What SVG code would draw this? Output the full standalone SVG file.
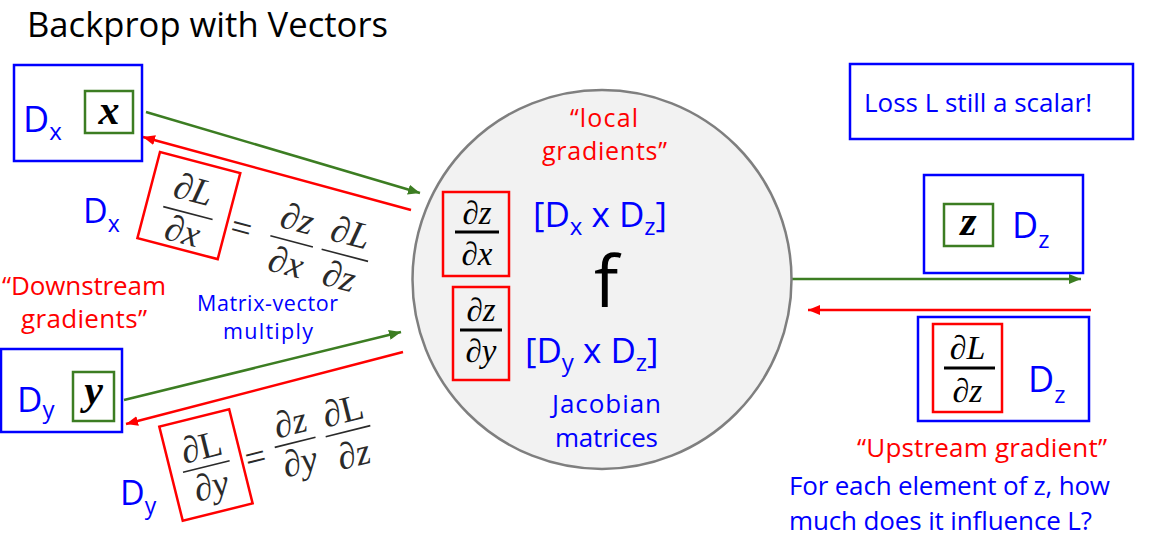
<svg xmlns="http://www.w3.org/2000/svg" width="1149" height="553" viewBox="0 0 1149 553">
<style>
.sans{font-family:"Open Sans","Noto Sans","DejaVu Sans",sans-serif}
.blue{fill:#0000ff}
.red{fill:#ff0000}
.bbox{fill:none;stroke:#0000ff;stroke-width:2.5}
.gbox{fill:none;stroke:#3c7d22;stroke-width:2.5}
.rbox{fill:none;stroke:#ff0000;stroke-width:2.5}
.math{font-family:"Liberation Serif","DejaVu Serif",serif;font-style:italic;fill:#000}
.eq{font-family:"Liberation Serif","DejaVu Serif",serif;font-style:italic;fill:#2a2a2a;font-size:37px}
.up{font-style:normal}
.bar{stroke:#000;stroke-width:3}
.tbar{stroke:#2a2a2a;stroke-width:1.6}
.gline{stroke:#3c7d22;stroke-width:2.5;fill:none}
.rline{stroke:#ff0000;stroke-width:2.5;fill:none}
</style>
<defs>
<marker id="ag" markerUnits="userSpaceOnUse" markerWidth="13" markerHeight="10" refX="12" refY="5" orient="auto">
<path d="M0,0 L12,5 L0,10 z" fill="#3c7d22"/>
</marker>
<marker id="ar" markerUnits="userSpaceOnUse" markerWidth="13" markerHeight="10" refX="12" refY="5" orient="auto">
<path d="M0,0 L12,5 L0,10 z" fill="#ff0000"/>
</marker>
</defs>
<rect width="1149" height="553" fill="#fff"/>

<g id="title">
<text class="sans" x="27" y="37" font-size="34.6" fill="#000" textLength="361" lengthAdjust="spacing">Backprop with Vectors</text>
</g>

<g id="connectors">
<line class="gline" x1="146" y1="112" x2="420" y2="193" marker-end="url(#ag)"/>
<line class="rline" x1="411" y1="210" x2="143" y2="137" marker-end="url(#ar)"/>
<line class="gline" x1="124" y1="400" x2="401" y2="332" marker-end="url(#ag)"/>
<line class="rline" x1="403" y1="352" x2="126" y2="424" marker-end="url(#ar)"/>
<line class="gline" x1="792" y1="279" x2="1081" y2="279" marker-end="url(#ag)"/>
<line class="rline" x1="1091" y1="310" x2="808" y2="310" marker-end="url(#ar)"/>
</g>

<g id="node-x">
<rect class="bbox" x="14" y="65" width="128" height="96"/>
<rect class="gbox" x="85" y="91" width="48" height="42"/>
<text class="math" x="109" y="124" font-size="42" font-weight="bold" text-anchor="middle">x</text>
<text class="sans blue" x="23" y="132" font-size="36">D<tspan font-size="24" dy="8">x</tspan></text>
</g>

<g id="node-y">
<rect class="bbox" x="1" y="349" width="121" height="83"/>
<rect class="gbox" x="73" y="372" width="41" height="49"/>
<text class="math" x="93.5" y="404" font-size="42" font-weight="bold" text-anchor="middle">y</text>
<text class="sans blue" x="17" y="412" font-size="35">D<tspan font-size="24" dy="6">y</tspan></text>
</g>

<g id="grad-x">
<text class="sans blue" x="83" y="223" font-size="34">D<tspan font-size="23" dy="9">x</tspan></text>
<g transform="translate(160,152) rotate(14.7)">
<rect class="rbox" x="0" y="0" width="83" height="89"/>
<text class="eq" x="42" y="40" text-anchor="middle">∂L</text>
<line class="tbar" x1="17" y1="52" x2="68" y2="52"/>
<text class="eq" x="42" y="83" text-anchor="middle">∂x</text>
<text class="eq up" x="98" y="65" text-anchor="middle" font-size="40">=</text>
<text class="eq" x="150" y="42" text-anchor="middle">∂z</text>
<line class="tbar" x1="128" y1="53" x2="172" y2="53"/>
<text class="eq" x="150" y="87" text-anchor="middle">∂x</text>
<text class="eq" x="205" y="42" text-anchor="middle">∂L</text>
<line class="tbar" x1="181" y1="53" x2="229" y2="53"/>
<text class="eq" x="205" y="87" text-anchor="middle">∂z</text>
</g>
</g>

<g id="grad-y">
<text class="sans blue" x="120" y="505" font-size="34">D<tspan font-size="23" dy="9">y</tspan></text>
<g transform="translate(159.3,426.7) rotate(-14)">
<rect class="rbox" x="0" y="0" width="72" height="97"/>
<text class="eq" x="36" y="42" text-anchor="middle">∂<tspan class="up">L</tspan></text>
<line class="tbar" x1="12" y1="50" x2="60" y2="50"/>
<text class="eq" x="36" y="82" text-anchor="middle">∂y</text>
<text class="eq up" x="86" y="65" text-anchor="middle" font-size="40">=</text>
<text class="eq" x="128" y="40" text-anchor="middle">∂z</text>
<line class="tbar" x1="107" y1="48" x2="149" y2="48"/>
<text class="eq" x="128" y="80" text-anchor="middle">∂y</text>
<text class="eq" x="182" y="41" text-anchor="middle">∂<tspan class="up">L</tspan></text>
<line class="tbar" x1="159" y1="50" x2="205" y2="50"/>
<text class="eq" x="182" y="86" text-anchor="middle">∂z</text>
</g>
</g>

<g id="label-downstream">
<text class="sans red" x="2" y="295" font-size="26" textLength="164" lengthAdjust="spacing">“Downstream</text>
<text class="sans red" x="21" y="328" font-size="26" textLength="126" lengthAdjust="spacing">gradients”</text>
</g>

<g id="label-matvec">
<text class="sans blue" x="197" y="311" font-size="21.5" textLength="141" lengthAdjust="spacing">Matrix-vector</text>
<text class="sans blue" x="223" y="339" font-size="21.5" textLength="90" lengthAdjust="spacing">multiply</text>
</g>

<g id="node-f">
<circle cx="602" cy="279.5" r="189.5" fill="#f2f2f2" stroke="#7f7f7f" stroke-width="2.5"/>
<text class="sans red" x="570" y="127" font-size="25" textLength="68" lengthAdjust="spacing">“local</text>
<text class="sans red" x="542" y="160" font-size="25" textLength="125" lengthAdjust="spacing">gradients”</text>
<rect class="rbox" x="443" y="192" width="66" height="84"/>
<text class="math" x="477" y="224" font-size="33" text-anchor="middle">∂z</text>
<line class="bar" x1="455" y1="232" x2="499" y2="232"/>
<text class="math" x="477" y="265" font-size="33" text-anchor="middle">∂x</text>
<rect class="rbox" x="453" y="287" width="56" height="93"/>
<text class="math" x="481" y="321" font-size="33" text-anchor="middle">∂z</text>
<line class="bar" x1="460" y1="330" x2="502" y2="330"/>
<text class="math" x="481" y="362" font-size="33" text-anchor="middle">∂y</text>
<text class="sans blue" x="533" y="227" font-size="35">[D<tspan font-size="24" dy="8">x</tspan><tspan dy="-8"> x D</tspan><tspan font-size="24" dy="8">z</tspan><tspan dy="-8">]</tspan></text>
<text class="sans blue" x="525" y="363" font-size="35">[D<tspan font-size="24" dy="8">y</tspan><tspan dy="-8"> x D</tspan><tspan font-size="24" dy="8">z</tspan><tspan dy="-8">]</tspan></text>
<text class="sans" x="606" y="307" font-size="72" fill="#000" text-anchor="middle">f</text>
<text class="sans blue" x="552" y="413" font-size="26" textLength="109" lengthAdjust="spacing">Jacobian</text>
<text class="sans blue" x="555" y="447" font-size="26" textLength="103" lengthAdjust="spacing">matrices</text>
</g>

<g id="note-loss">
<rect class="bbox" x="850" y="64" width="283" height="75"/>
<text class="sans blue" x="864" y="112" font-size="26" textLength="228" lengthAdjust="spacing">Loss L still a scalar!</text>
</g>

<g id="node-z">
<rect class="bbox" x="924" y="175" width="159" height="98"/>
<rect class="gbox" x="944" y="204" width="49" height="42"/>
<text class="math" x="968.5" y="235" font-size="42" font-weight="bold" text-anchor="middle">z</text>
<text class="sans blue" x="1012" y="238" font-size="36">D<tspan font-size="24" dy="10">z</tspan></text>
</g>

<g id="node-dLdz">
<rect class="bbox" x="918" y="317" width="171" height="104"/>
<rect class="rbox" x="933" y="324" width="69" height="88"/>
<text class="math" x="967.5" y="359" font-size="34" text-anchor="middle">∂L</text>
<line class="bar" x1="944" y1="368" x2="995" y2="368"/>
<text class="math" x="967.5" y="402" font-size="34" text-anchor="middle">∂z</text>
<text class="sans blue" x="1028" y="392" font-size="36">D<tspan font-size="24" dy="11">z</tspan></text>
</g>

<g id="label-upstream">
<text class="sans red" x="857" y="457" font-size="26" textLength="250" lengthAdjust="spacing">“Upstream gradient”</text>
<text class="sans blue" x="789" y="495" font-size="26" textLength="321" lengthAdjust="spacing">For each element of z, how</text>
<text class="sans blue" x="789" y="530" font-size="26" textLength="303" lengthAdjust="spacing">much does it influence L?</text>
</g>
</svg>
